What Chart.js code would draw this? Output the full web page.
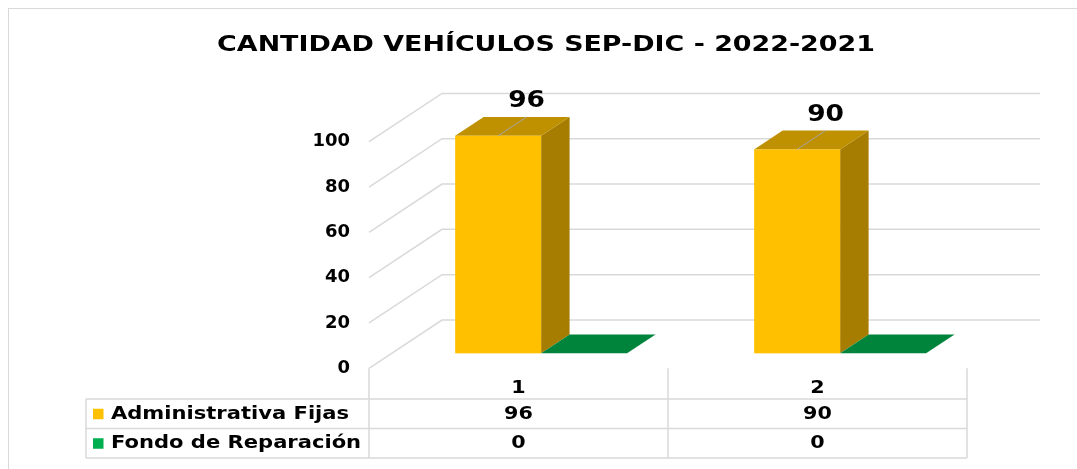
<!DOCTYPE html>
<html>
<head>
<meta charset="utf-8">
<script src="https://cdn.jsdelivr.net/npm/chart.js@4.4.1/dist/chart.umd.min.js"></script>
<style>
  html, body { margin: 0; padding: 0; background: #fff; overflow: hidden; }
  #frame { position: absolute; left: 8px; top: 8px; width: 1100px; height: 500px; border: 1px solid #d9d9d9; }
  #chart { position: absolute; left: 0; top: 0; }
</style>
</head>
<body>
<div id="frame"><canvas id="chart" width="1074" height="460"></canvas></div>
<script>
// data
const chartTitle = 'CANTIDAD VEHÍCULOS SEP-DIC - 2022-2021';
const categories = ['1', '2'];
const seriesNames = ['Administrativa Fijas', 'Fondo de Reparación'];
const adminFijas = [96, 90];
const fondoReparacion = [0, 0];
const yMin = 0, yMax = 100, yStep = 20;

const FONT = '"DejaVu Sans", Verdana, sans-serif';
const colors = [
  { key: '#FFC000', front: '#FFC000', top: '#BF9000', side: '#A67D00' },
  { key: '#00B050', front: '#00B050', top: '#00843C', side: '#00703A' }
];

// 3d look: depth vector of the floor, bars sit in the middle of it
const DEPTH_X = 73, DEPTH_Y = -48.3, FRONT = 0.31, THICK = 0.39;

function poly(ctx, pts, fill) {
  ctx.beginPath();
  ctx.moveTo(pts[0][0], pts[0][1]);
  pts.slice(1).forEach(p => ctx.lineTo(p[0], p[1]));
  ctx.closePath();
  ctx.fillStyle = fill;
  ctx.fill();
}

// the original text is a little wider than the font, so stretch it a bit
function wideText(ctx, txt, x, y, align, sx) {
  ctx.save();
  ctx.translate(x, y);
  ctx.scale(sx, 1);
  ctx.textAlign = align;
  ctx.fillText(txt, 0, 0);
  ctx.restore();
}

const titlePlugin = {
  id: 'wideTitle',
  afterDraw(chart) {
    const ctx = chart.ctx;
    ctx.save();
    ctx.fillStyle = '#000';
    ctx.font = 'bold 21.5px ' + FONT;
    ctx.textBaseline = 'middle';
    wideText(ctx, chartTitle, chart.width / 2, 36, 'center', 1.25);
    ctx.restore();
  }
};

const wallPlugin = {
  id: 'wall3d',
  beforeDatasetsDraw(chart) {
    const { ctx, chartArea: a, scales: { y } } = chart;
    ctx.save();
    ctx.strokeStyle = '#d9d9d9';
    ctx.lineWidth = 1.5;
    y.ticks.forEach(t => {
      const py = y.getPixelForValue(t.value);
      ctx.beginPath();
      ctx.moveTo(a.left, py);
      ctx.lineTo(a.left + DEPTH_X, py + DEPTH_Y);
      ctx.lineTo(a.right + DEPTH_X, py + DEPTH_Y);
      ctx.stroke();
    });
    ctx.restore();
  }
};

const boxPlugin = {
  id: 'box3d',
  afterDatasetsDraw(chart) {
    const ctx = chart.ctx;
    const fx = FRONT * DEPTH_X, fy = FRONT * DEPTH_Y;
    const dx = THICK * DEPTH_X, dy = THICK * DEPTH_Y;
    ctx.save();
    categories.forEach((c, j) => {
      chart.data.datasets.forEach((ds, i) => {
        const bar = chart.getDatasetMeta(i).data[j];
        const p = bar.getProps(['x', 'y', 'base', 'width'], true);
        const col = colors[i];
        const x0 = p.x - p.width / 2 + fx, x1 = p.x + p.width / 2 + fx;
        const top = p.y + fy, bot = p.base + fy;
        poly(ctx, [[x1, top], [x1 + dx, top + dy], [x1 + dx, bot + dy], [x1, bot]], col.side);
        poly(ctx, [[x0, top], [x1, top], [x1 + dx, top + dy], [x0 + dx, top + dy]], col.top);
        if (bot - top > 0.5) {
          ctx.fillStyle = col.front;
          ctx.fillRect(x0, top, x1 - x0, bot - top);
        }
      });
    });
    // value labels with leader line over the top face
    chart.data.datasets.forEach((ds, i) => {
      ds.data.forEach((v, j) => {
        if (!v) return;
        const p = chart.getDatasetMeta(i).data[j].getProps(['x', 'y'], true);
        const cx = p.x + fx, cy = p.y + fy;
        ctx.strokeStyle = '#a6a6a6';
        ctx.lineWidth = 1;
        ctx.beginPath();
        ctx.moveTo(cx, cy);
        ctx.lineTo(cx + dx, cy + dy);
        ctx.stroke();
        ctx.fillStyle = '#000';
        ctx.font = 'bold 23px ' + FONT;
        ctx.textBaseline = 'middle';
        wideText(ctx, String(v), cx + dx, cy + dy - 16, 'center', 1.15);
      });
    });
    ctx.restore();
  }
};

const tablePlugin = {
  id: 'dataTable',
  afterDraw(chart) {
    const { ctx, chartArea: a, scales: { x } } = chart;
    const half = (a.right - a.left) / categories.length / 2;
    const headTop = a.bottom, r1 = 390, rowH = 29.5, left = 77;
    const rows = [adminFijas, fondoReparacion];
    const bottom = r1 + rowH * rows.length;
    ctx.save();
    ctx.strokeStyle = '#d9d9d9';
    ctx.lineWidth = 1.5;
    ctx.beginPath();
    // column lines
    ctx.moveTo(a.left, headTop); ctx.lineTo(a.left, bottom);
    categories.forEach((c, j) => {
      const xr = x.getPixelForValue(j) + half;
      ctx.moveTo(xr, headTop); ctx.lineTo(xr, bottom);
    });
    ctx.moveTo(left, r1); ctx.lineTo(left, bottom);
    for (let k = 0; k <= rows.length; k++) {
      ctx.moveTo(left, r1 + k * rowH); ctx.lineTo(a.right, r1 + k * rowH);
    }
    ctx.stroke();

    ctx.fillStyle = '#000';
    ctx.font = 'bold 18px ' + FONT;
    ctx.textBaseline = 'middle';
    categories.forEach((c, j) => wideText(ctx, c, x.getPixelForValue(j), headTop + 20, 'center', 1.15));
    rows.forEach((vals, i) => {
      const cy = r1 + rowH * i + rowH / 2 + 0.5;
      vals.forEach((v, j) => wideText(ctx, String(v), x.getPixelForValue(j), cy, 'center', 1.15));
      ctx.fillStyle = colors[i].key;
      ctx.fillRect(left + 7, cy - 5.5, 10.5, 10.5);
      ctx.fillStyle = '#000';
      wideText(ctx, seriesNames[i], left + 25, cy, 'left', 1.17);
    });
    ctx.restore();
  }
};

new Chart(document.getElementById('chart'), {
  type: 'bar',
  data: {
    labels: categories,
    datasets: [
      { label: seriesNames[0], data: adminFijas, backgroundColor: 'rgba(0,0,0,0)' },
      { label: seriesNames[1], data: fondoReparacion, backgroundColor: 'rgba(0,0,0,0)' }
    ]
  },
  options: {
    responsive: false,
    animation: false,
    categoryPercentage: 0.575,
    barPercentage: 1,
    layout: { padding: { top: 132.7, left: 0, right: 116, bottom: 0 } },
    plugins: {
      legend: { display: false },
      tooltip: { enabled: false },
      title: { display: false }
    },
    scales: {
      x: {
        grid: { display: false },
        border: { display: false },
        ticks: { display: false },
        afterFit: s => { s.height = 100.7; }
      },
      y: {
        min: yMin, max: yMax,
        grid: { display: false, drawTicks: false },
        border: { display: false },
        ticks: { stepSize: yStep, padding: 19, color: '#000', font: { family: FONT, size: 18, weight: 'bold' } },
        afterFit: s => { s.width = 360; }
      }
    }
  },
  plugins: [wallPlugin, boxPlugin, tablePlugin, titlePlugin]
});
</script>
</body>
</html>
